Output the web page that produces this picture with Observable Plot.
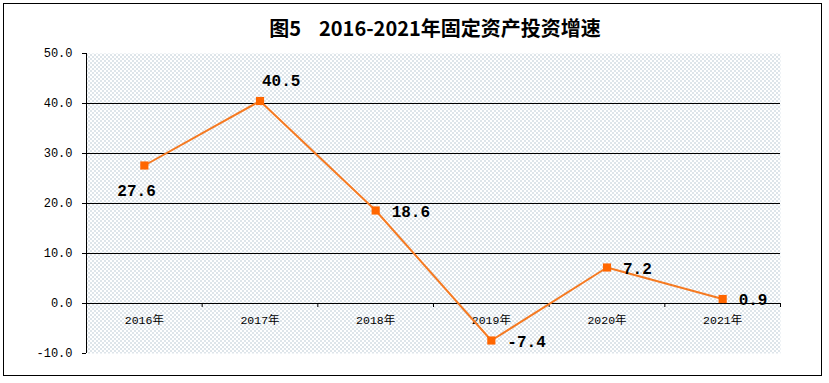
<!DOCTYPE html>
<html>
<head>
<meta charset="utf-8">
<script src="https://cdn.jsdelivr.net/npm/d3@7"></script>
<script src="https://cdn.jsdelivr.net/npm/@observablehq/plot@0.6"></script>
<style>
  html, body { margin: 0; padding: 0; background: #fff; }
  #wrap { position: relative; width: 829px; height: 383px; overflow: hidden; }
  #border { position: absolute; left: 3px; top: 3px; width: 819px; height: 373px; border: 1.5px solid #000; box-sizing: border-box; pointer-events: none; }
  #title { position: absolute; left: 0; top: 13px; width: 870px; text-align: center; font-family: "Noto Sans CJK SC", sans-serif; font-weight: bold; font-size: 20px; line-height: 30px; color: #000; white-space: pre; }
  #title .gap { display: inline-block; width: 18px; }
  #chart { position: absolute; left: 0; top: 0; }
</style>
</head>
<body>
<div id="wrap">
  <div id="chart"></div>
  <div id="title">图5<span class="gap"></span>2016-2021年固定资产投资增速</div>
  <div id="border"></div>
</div>
<script>
const categories = ["2016年", "2017年", "2018年", "2019年", "2020年", "2021年"];
const growth = [27.6, 40.5, 18.6, -7.4, 7.2, 0.9];
const yTicks = [-10, 0, 10, 20, 30, 40, 50];
const gridValues = [0, 10, 20, 30, 40];

const data = categories.map((c, i) => ({cat: c, idx: i + 0.5, value: growth[i]}));
const bounds = d3.range(1, categories.length + 1);

const lineColor = "#F57A22";
const markColor = "#FF6600";
const monoFont = "'Liberation Mono', 'Noto Sans CJK SC', monospace";

const plot = Plot.plot({
  width: 829,
  height: 383,
  marginTop: 53,
  marginBottom: 30,
  marginLeft: 86,
  marginRight: 49,
  style: {background: "transparent", overflow: "visible"},
  x: {type: "linear", domain: [0, categories.length], axis: null},
  y: {domain: [-10, 50], axis: null},
  marks: [
    Plot.frame({fill: "url(#dots)", stroke: "none"}),
    Plot.ruleY(gridValues, {stroke: "#000", strokeWidth: 1}),
    Plot.ruleX([0], {y1: -10, y2: 50, stroke: "#000", strokeWidth: 1}),
    Plot.axisY(yTicks, {
      label: null,
      tickSize: 4, tickPadding: 10, tickFormat: d => d.toFixed(1),
      fontFamily: monoFont, fontSize: 12, stroke: "#000", strokeOpacity: 1, fill: "#000"
    }),
    Plot.ruleX(bounds, {y1: () => 0, y2: () => 0, insetBottom: -4, stroke: "#000"}),
    Plot.text(data, {
      x: "idx", y: () => 0, text: "cat", dy: 17,
      fontFamily: monoFont, fontSize: 11.5, fill: "#000"
    }),
    Plot.line(data, {x: "idx", y: "value", stroke: lineColor, strokeWidth: 2}),
    Plot.dot(data, {x: "idx", y: "value", symbol: "square", r: 4.6, fill: markColor, stroke: "none"}),
    // data labels
    Plot.text(data.filter((d, i) => i === 0), {
      x: "idx", y: "value", text: d => d.value.toFixed(1), textAnchor: "start",
      dx: -27, dy: 25, fontFamily: monoFont, fontWeight: "bold", fontSize: 16, fill: "#000"
    }),
    Plot.text(data.filter((d, i) => i === 1), {
      x: "idx", y: "value", text: d => d.value.toFixed(1), textAnchor: "start",
      dx: 2, dy: -20, fontFamily: monoFont, fontWeight: "bold", fontSize: 16, fill: "#000"
    }),
    Plot.text(data.filter((d, i) => i >= 2), {
      x: "idx", y: "value", text: d => d.value.toFixed(1), textAnchor: "start",
      dx: 16, dy: 1, fontFamily: monoFont, fontWeight: "bold", fontSize: 16, fill: "#000"
    })
  ]
});

// dotted background pattern definition
const ns = "http://www.w3.org/2000/svg";
const defs = document.createElementNS(ns, "defs");
const pat = document.createElementNS(ns, "pattern");
pat.setAttribute("id", "dots");
pat.setAttribute("width", "4");
pat.setAttribute("height", "4");
pat.setAttribute("patternUnits", "userSpaceOnUse");
const bg = document.createElementNS(ns, "rect");
bg.setAttribute("width", "4"); bg.setAttribute("height", "4"); bg.setAttribute("fill", "#ffffff");
pat.appendChild(bg);
for (const [px, py] of [[0, 0], [2, 2]]) {
  const r = document.createElementNS(ns, "rect");
  r.setAttribute("x", px); r.setAttribute("y", py);
  r.setAttribute("width", "1"); r.setAttribute("height", "1");
  r.setAttribute("fill", "#7a98ac");
  pat.appendChild(r);
}
defs.appendChild(pat);
plot.insertBefore(defs, plot.firstChild);

document.getElementById("chart").appendChild(plot);
</script>
</body>
</html>
